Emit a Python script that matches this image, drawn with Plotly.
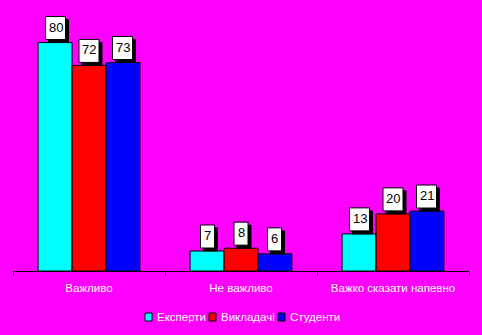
import plotly.graph_objects as go

categories = ["Важливо", "Не важливо", "Важко сказати напевно"]
series_names = ["Експерти", "Викладачі", "Студенти"]
experts = [80, 7, 13]
teachers = [72, 8, 20]
students = [73, 6, 21]
colors = ["#00FFFF", "#FF0000", "#0000FF"]

values = [experts, teachers, students]

W, H = 482, 335
L, R, T, B = 13, 13, 14, 64
PW, PH = W - L - R, H - T - B
FONT = "Liberation Sans, Arial, sans-serif"


def px_x(px):
    return (px - L) / PW


def px_y(py):
    return (H - B - py) / PH


fig = go.Figure()
for name, vals, col in zip(series_names, values, colors):
    fig.add_trace(go.Bar(
        x=categories, y=vals, name=name, showlegend=False,
        marker=dict(color=col, line=dict(color="black", width=1)),
    ))

# value labels: white boxes with a dropped black shadow, set just above each bar
bar_px = 33.5
box_h = 23
for j, vals in enumerate(values):
    for i, v in enumerate(vals):
        off = (j - 1) * bar_px
        w = 20 if v >= 10 else 14
        base = dict(type="rect", xref="x", yref="y", xsizemode="pixel", ysizemode="pixel",
                    xanchor=i, yanchor=v, line=dict(color="black", width=1))
        fig.add_shape(x0=off - w / 2 + 3, x1=off + w / 2 + 3, y0=0, y1=box_h,
                      fillcolor="black", **base)
        fig.add_shape(x0=off - w / 2, x1=off + w / 2, y0=3, y1=3 + box_h,
                      fillcolor="white", **base)
        fig.add_annotation(text=str(v), x=i, y=v, xref="x", yref="y", showarrow=False,
                           xshift=off, yshift=3 + box_h / 2 + 1, yanchor="middle",
                           font=dict(family=FONT, size=13, color="black"))

# legend row: small outlined squares followed by series names
legend_marks = [145, 209, 278]
for name, col, mx in zip(series_names, colors, legend_marks):
    fig.add_shape(type="rect", xref="paper", yref="paper",
                  x0=px_x(mx), x1=px_x(mx + 7), y0=px_y(321), y1=px_y(313),
                  fillcolor=col, line=dict(color="black", width=1))
    fig.add_annotation(text=name, xref="paper", yref="paper", showarrow=False,
                       x=px_x(mx + 10), y=px_y(317), xanchor="left", yanchor="middle",
                       font=dict(family=FONT, size=11.5, color="white"))

fig.update_layout(
    width=W, height=H,
    margin=dict(l=L, r=R, t=T, b=B, autoexpand=False),
    paper_bgcolor="#FF00FF", plot_bgcolor="#FF00FF",
    barmode="group", bargap=0.33, bargroupgap=0,
    font=dict(family=FONT, size=11.5, color="white"),
    showlegend=False,
    xaxis=dict(showline=True, linecolor="black", linewidth=1, automargin=False,
               ticks="outside", tickson="boundaries", ticklen=4, tickcolor="black",
               ticklabelstandoff=6,
               tickfont=dict(family=FONT, color="white", size=11.5), showgrid=False),
    yaxis=dict(range=[0, 90], visible=False, showgrid=False),
)

fig.write_html("out.html")
